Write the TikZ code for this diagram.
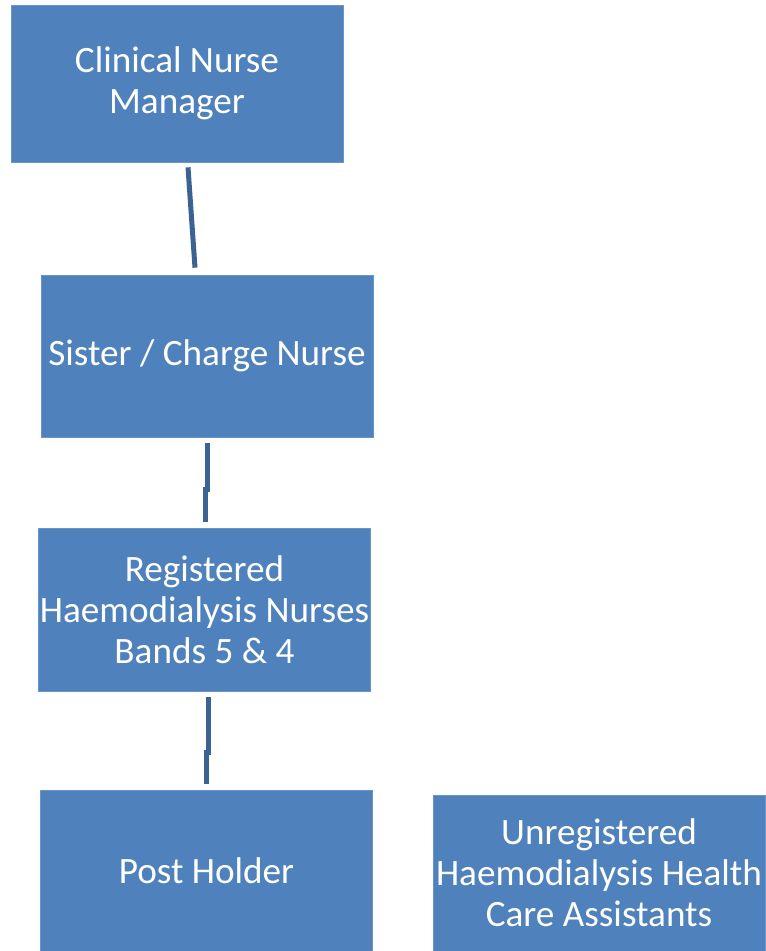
\documentclass[tikz,border=0pt]{standalone}
\usepackage{fontspec}
\setmainfont{Carlito}
\usepackage{tikz}
\usetikzlibrary{calc}
\definecolor{boxblue}{HTML}{4F81BD}
\definecolor{linkblue}{HTML}{3A6394}

\begin{document}
\begin{tikzpicture}[x=0.75pt, y=-0.75pt]
            \tikzstyle{box} = [fill=boxblue, draw=boxblue!85!white, line width=0.5pt, text=white, minimum width=249pt, inner sep=0pt, align=center, font=\fontsize{27.9}{30.75}\selectfont]
            \tikzstyle{link} = [draw=linkblue, line width=3.75pt]
            \useasboundingbox (0,0) rectangle (766,951);

            \node (cnm) [box, minimum height=117.75pt] at (177,83.5) {Clinical Nurse\\Manager};
            \node (scn) [box, minimum height=121.5pt] at (207,356) {Sister / Charge Nurse};
            \node (rhn) [box, minimum height=122.25pt] at (204.5,609.5) {Registered\\Haemodialysis Nurses\\Bands 5 \& 4};
            \node (ph) [box, minimum height=120.75pt] at (206.5,870.5) {Post Holder};
            \node (hca) [box, minimum height=117pt] at (599,873) {Unregistered\\Haemodialysis Health\\Care Assistants};

            \draw [link] ($(cnm.south)+(11,5)$) -- ($(scn.north)+(-12,-7)$);
            \draw [link] ($(scn.south)+(0,6)$) -- ++(0,46) -| ($(rhn.north)+(0.5,-6)$);
            \draw [link] ($(rhn.south)+(3.5,6)$) -- ++(0,55) -| ($(ph.north)+(-0.5,-6)$);
        \end{tikzpicture}
\end{document}
